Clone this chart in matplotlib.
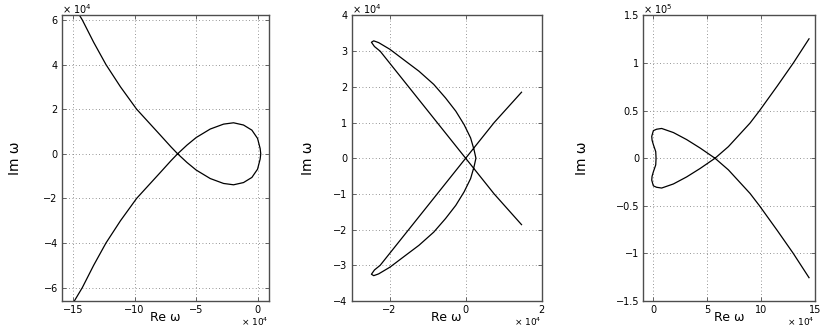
import numpy as np
import matplotlib
matplotlib.use('Agg')
import matplotlib.pyplot as plt
from matplotlib.ticker import FuncFormatter

plt.rcParams['font.family'] = ['DejaVu Sans']

# values, in units of 1e4 (panel 3 imaginary part in 1e5)
re1 = [-14.9, -14.25, -13.33, -12.33, -11.15, -9.84, -8.98, -7.92, -7.05, -6.51,
       -5.75, -5.0, -3.86, -2.78, -1.97, -1.16, -0.48, -0.02, 0.19, 0.24,
       0.19, -0.02, -0.48, -1.16, -1.97, -2.78, -3.86, -5.0, -5.75,
       -6.51, -7.05, -7.92, -8.98, -9.84, -11.15, -12.33, -13.33, -14.25, -14.9]
im1 = [6.6, 6.0, 5.0, 4.0, 3.0, 2.0, 1.48, 0.84, 0.31, 0.0,
       -0.39, -0.73, -1.11, -1.33, -1.39, -1.29, -1.06, -0.69, -0.24, 0.0,
       0.24, 0.69, 1.06, 1.29, 1.39, 1.33, 1.11, 0.73, 0.39,
       0.0, -0.31, -0.84, -1.48, -2.0, -3.0, -4.0, -5.0, -6.0, -6.6]

re2 = [1.47, 0.75, 0.0, -0.75, -1.5, -2.25, -2.4, -2.48, -2.42, -2.29, -1.99,
       -1.58, -1.23, -0.84, -0.53, -0.26, -0.04, 0.13, 0.22, 0.27,
       0.22, 0.13, -0.04, -0.26, -0.53, -0.84, -1.23, -1.58, -1.99, -2.29,
       -2.42, -2.48, -2.4, -2.25, -1.5, -0.75, 0.0, 0.75, 1.47]
im2 = [1.85, 1.0, 0.0, -1.0, -2.0, -3.0, -3.13, -3.25, -3.29, -3.24, -3.05,
       -2.72, -2.44, -2.07, -1.69, -1.32, -0.94, -0.57, -0.24, 0.0,
       0.24, 0.57, 0.94, 1.32, 1.69, 2.07, 2.44, 2.72, 3.05, 3.24,
       3.29, 3.25, 3.13, 3.0, 2.0, 1.0, 0.0, -1.0, -1.86]

re3 = [14.44, 12.98, 11.5, 9.85, 8.97, 6.96, 5.72, 4.33, 3.09, 1.86, 0.77, 0.3,
       0.0, -0.15, -0.12, 0.0, 0.22, 0.25, 0.22, 0.0, -0.12, -0.15, 0.0, 0.3,
       0.77, 1.86, 3.09, 4.33, 5.72, 6.96, 8.97, 9.85, 11.5, 12.98, 14.44]
im3 = [1.255, 1.0, 0.76, 0.5, 0.37, 0.122, 0.0, -0.108, -0.196, -0.27, -0.313, -0.305,
       -0.29, -0.23, -0.19, -0.143, -0.07, 0.0, 0.07, 0.143, 0.19, 0.23, 0.29, 0.305,
       0.313, 0.27, 0.196, 0.108, 0.0, -0.122, -0.37, -0.5, -0.76, -1.0, -1.255]

xticks1, yticks1 = [-15, -10, -5, 0], [-6, -4, -2, 0, 2, 4, 6]
xticks2, yticks2 = [-2, 0, 2], [-4, -3, -2, -1, 0, 1, 2, 3, 4]
xticks3, yticks3 = [0, 5, 10, 15], [-1.5, -1, -0.5, 0, 0.5, 1, 1.5]


def fmt(v, pos):
    return ('%g' % v).replace('-', '\u2212')


def draw(ax, re, im, xt, yt, xl, yl, xexp, yexp, ylab_x):
    ax.plot(re, im, color='black', lw=0.9)
    ax.set_xlim(xl)
    ax.set_ylim(yl)
    ax.set_xticks(xt)
    ax.set_yticks(yt)
    ax.xaxis.set_major_formatter(FuncFormatter(fmt))
    ax.yaxis.set_major_formatter(FuncFormatter(fmt))
    ax.tick_params(direction='in', top=True, right=True, length=3, width=0.6,
                   labelsize=7, pad=3, color='0.3')
    ax.grid(True, linestyle=(0, (1, 3)), color='0.45', lw=0.6)
    for s in ax.spines.values():
        s.set_color('0.3')
        s.set_linewidth(1.0)
    ax.set_xlabel('Re \u03c9', fontsize=9)
    ax.set_ylabel('Im \u03c9', fontsize=10)
    ax.xaxis.set_label_coords(0.5, -0.035)
    ax.yaxis.set_label_coords(ylab_x, 0.5)
    ax.text(1.0, -0.087, '\u00d7 10$^{%d}$' % xexp, transform=ax.transAxes,
            ha='right', va='baseline', fontsize=6.5)
    ax.text(0.0, 1.022, '\u00d7 10$^{%d}$' % yexp, transform=ax.transAxes,
            ha='left', va='center', fontsize=7)


fig = plt.figure(figsize=(8.3, 3.27), dpi=100)
ax1 = fig.add_axes([0.0747, 0.0795, 0.2488, 0.8731])
ax2 = fig.add_axes([0.4237, 0.0795, 0.2289, 0.8731])
ax3 = fig.add_axes([0.7751, 0.0795, 0.2069, 0.8731])

draw(ax1, re1, im1, xticks1, yticks1, (-15.9, 0.87), (-6.6, 6.2), 4, 4, -0.194)
draw(ax2, re2, im2, xticks2, yticks2, (-3, 2), (-4, 4), 4, 4, -0.193)
draw(ax3, re3, im3, xticks3, yticks3, (-0.93, 15), (-1.5, 1.5), 4, 5, -0.316)

fig.savefig('out.png', dpi=100)
